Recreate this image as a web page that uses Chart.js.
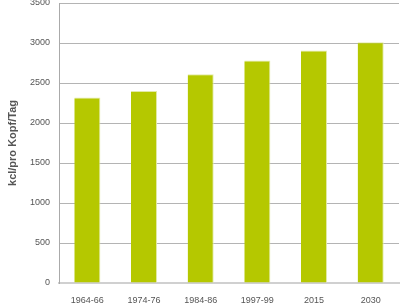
<!DOCTYPE html>
<html>
<head>
<meta charset="utf-8">
<script src="https://cdn.jsdelivr.net/npm/chart.js@4"></script>
<style>
  html, body { margin: 0; padding: 0; background: #fff; }
  #wrap { width: 401px; height: 305px; position: relative; }
</style>
</head>
<body>
<div id="wrap"><canvas id="chartKcal"></canvas></div>
<script>
'use strict';

// ─── Data ─────────────────────────────────────────────────────────────────────
const periods = ['1964-66', '1974-76', '1984-86', '1997-99', '2015', '2030'];
const kcalPerDay = [2320, 2400, 2610, 2780, 2905, 3010];
const yTicks = [0, 500, 1000, 1500, 2000, 2500, 3000, 3500];

const FONT = "'Liberation Sans', Arial, sans-serif";

new Chart(document.getElementById('chartKcal'), {
  type: 'bar',
  data: {
    labels: periods,
    datasets: [{
      label: 'kcl/pro Kopf/Tag',
      data: kcalPerDay,
      backgroundColor: '#b5c800',
      borderColor: '#e2eaa6',
      borderWidth: { top: 1, right: 1, left: 0, bottom: 0 },
      borderSkipped: false,
      categoryPercentage: 1,
      barPercentage: 0.46,
    }]
  },
  options: {
    responsive: true,
    maintainAspectRatio: false,
    animation: false,
    layout: { padding: { top: 3, right: 2, left: 0, bottom: 0 } },
    plugins: {
      legend: { display: false },
      tooltip: { enabled: false }
    },
    scales: {
      x: {
        grid: { display: false, drawTicks: false },
        border: { color: '#d0d0d0', width: 2 },
        ticks: { color: '#555', font: { family: FONT, size: 9 }, padding: 12, maxRotation: 0 },
        afterFit: s => { s.height = 22; s.paddingLeft = 0; s.paddingRight = 0; }
      },
      y: {
        min: 0, max: 3500,
        afterBuildTicks: s => { s.ticks = yTicks.map(v => ({ value: v })); },
        grid: { color: '#b4b4b4', drawTicks: false },
        border: { color: '#aaa', width: 1 },
        ticks: {
          color: '#555', font: { family: FONT, size: 9 }, padding: 9,
          callback: v => String(v)
        },
        title: {
          display: true,
          text: 'kcl/pro Kopf/Tag',
          color: '#555',
          font: { family: FONT, size: 11, weight: 'bold' },
          padding: { top: 6, bottom: 0 }
        },
        afterFit: s => { s.width = 59; s.paddingTop = 0; s.paddingBottom = 0; }
      }
    }
  }
});
</script>
</body>
</html>
